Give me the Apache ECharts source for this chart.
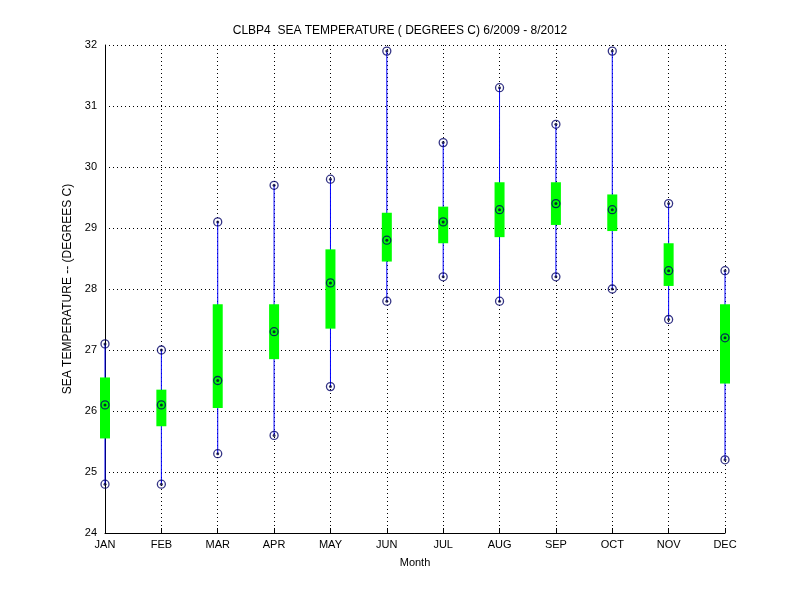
<!DOCTYPE html>
<html><head><meta charset="utf-8">
<script src="https://cdn.jsdelivr.net/npm/echarts@6/dist/echarts.min.js"></script>
<style>html,body{margin:0;padding:0;background:#fff}#c{width:800px;height:600px}</style>
</head><body><div id="c"></div>
<script>
const months = ['JAN','FEB','MAR','APR','MAY','JUN','JUL','AUG','SEP','OCT','NOV','DEC'];
const maxV  = [27.1,27.0,29.1,29.7,29.8,31.9,30.4,31.3,30.7,31.9,29.4,28.3];
const meanV = [26.1,26.1,26.5,27.3,28.1,28.8,29.1,29.3,29.4,29.3,28.3,27.2];
const minV  = [24.8,24.8,25.3,25.6,26.4,27.8,28.2,27.8,28.2,28.0,27.5,25.2];
const boxLo = [25.55,25.75,26.05,26.85,27.35,28.45,28.75,28.85,29.05,28.95,28.05,26.45];
const boxHi = [26.55,26.35,27.75,27.75,28.65,29.25,29.35,29.75,29.75,29.55,28.75,27.75];
const yTicks = [24,25,26,27,28,29,30,31,32];

const font = 'Liberation Sans, Arial, sans-serif';
const chart = echarts.init(document.getElementById('c'));
const whisker = months.map((m,i)=>[i,minV[i],maxV[i],boxLo[i],boxHi[i]]);
const pts = [];
months.forEach((m,i)=>{pts.push([i,maxV[i]],[i,meanV[i]],[i,minV[i]]);});
chart.setOption({
  animation:false,
  title:{text:'CLBP4  SEA TEMPERATURE ( DEGREES C) 6/2009 - 8/2012',left:'center',top:20,
    textStyle:{fontSize:12,fontWeight:'normal',color:'#000',fontFamily:font}},
  grid:{left:105,right:75,top:45,bottom:67},
  xAxis:{type:'category',data:months,boundaryGap:false,name:'Month',nameLocation:'middle',nameGap:24,
    nameTextStyle:{fontSize:11,color:'#000',fontFamily:font},
    axisLine:{lineStyle:{color:'#000'}},axisTick:{inside:true,length:5,lineStyle:{color:'#000'}},
    axisLabel:{color:'#000',fontSize:11,fontFamily:font,margin:6},
    splitLine:{show:true,lineStyle:{color:'#000',type:[1,3],width:1}}},
  yAxis:{type:'value',min:yTicks[0],max:yTicks[yTicks.length-1],interval:1,
    name:'SEA TEMPERATURE -- (DEGREES C)',nameLocation:'middle',nameGap:30,
    nameTextStyle:{fontSize:12,color:'#000',fontFamily:font},
    axisLine:{show:true,lineStyle:{color:'#000'}},axisTick:{inside:true,length:5,lineStyle:{color:'#000'}},
    axisLabel:{color:'#000',fontSize:11,fontFamily:font,margin:8},
    splitLine:{show:true,lineStyle:{color:'#000',type:[1,3],width:1}}},
  series:[
    {type:'custom',data:whisker,z:2,renderItem:(params,api)=>{
      const x=api.value(0);
      const a=api.coord([x,api.value(1)]),b=api.coord([x,api.value(2)]);
      const c=api.coord([x,api.value(3)]),d=api.coord([x,api.value(4)]);
      return {type:'group',children:[
        {type:'line',shape:{x1:a[0],y1:a[1],x2:b[0],y2:b[1]},style:{stroke:'#0000ff',lineWidth:1}},
        {type:'rect',shape:{x:c[0]-5,y:d[1],width:10,height:c[1]-d[1]},style:{fill:'#00ff00'}}
      ]};
    }},
    {type:'scatter',data:pts,symbol:'circle',symbolSize:8,z:3,
      itemStyle:{color:'transparent',borderColor:'#000066',borderWidth:1.3}},
    {type:'scatter',data:pts,symbol:'circle',symbolSize:3,z:4,itemStyle:{color:'#000033'}}
  ]
});
</script></body></html>
